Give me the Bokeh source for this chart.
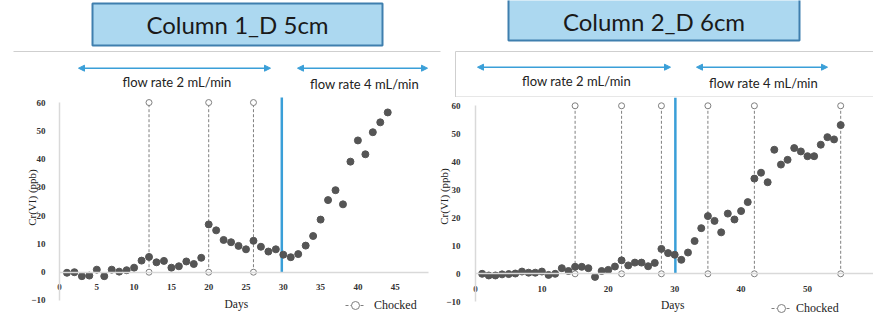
import math
from bokeh.plotting import figure
from bokeh.models import (ColumnDataSource, Range1d, FixedTicker, Legend, LegendItem,
                          Arrow, NormalHead, Label)
from bokeh.layouts import column, row
from bokeh.core.properties import value
from bokeh.embed import file_html
from bokeh.resources import INLINE

# ---------------- data ----------------
days_1 = list(range(1, 45))
cr_1 = [-0.2, 0.0, -1.4, -1.2, 0.9, -1.4, 0.9, 0.2, 0.7, 1.6,
        4.1, 5.4, 3.5, 4.0, 1.6, 2.1, 3.8, 2.9, 5.1, 16.9,
        14.8, 11.4, 10.6, 9.3, 8.1, 11.1, 9.0, 7.3, 8.1, 6.2,
        5.3, 6.4, 9.4, 12.8, 18.6, 25.5, 29.0, 24.0, 39.1, 46.6,
        41.7, 49.5, 53.0, 56.5]
choked_1 = [12, 20, 26]
flow_change_1 = [29.8]

days_2 = list(range(1, 56))
cr_2 = [0.0, -0.6, -0.6, -0.2, -0.1, 0.1, 0.8, 0.4, 0.4, 0.8,
        -0.4, 0.0, 2.0, 1.0, 2.5, 2.5, 2.0, -1.1, 1.0, 1.4,
        2.6, 4.8, 3.0, 4.0, 4.0, 2.7, 3.9, 8.9, 7.4, 6.8,
        5.0, 7.6, 11.7, 16.3, 20.6, 18.9, 14.8, 21.5, 19.4, 22.4,
        25.6, 34.0, 36.1, 32.7, 44.3, 39.0, 40.7, 44.9, 43.7, 42.0,
        42.0, 46.1, 48.8, 48.0, 53.1]
choked_2 = [15, 22, 28, 35, 42, 55]
flow_change_2 = [30.1]

choke_low = 0
choke_high = 60
y_ticks = [-10, 0, 10, 20, 30, 40, 50, 60]
x_ticks_1 = [0, 5, 10, 15, 20, 25, 30, 35, 40, 45]
x_ticks_2 = [0, 10, 20, 30, 40, 50]

titles = ["Column 1_D 5cm", "Column 2_D 6cm"]
flow_labels = ["flow rate 2 mL/min", "flow rate 4 mL/min"]
x_title = "Days"
y_title = "Cr(VI) (ppb)"

# ---------------- styles ----------------
SANS = "Lato"
SERIF = "Liberation Serif"
DOT = "#555555"
GRAYLINE = "#7f7f7f"
BLUE = "#3a9fd8"
AXIS = "#d9d9d9"
BOX_FILL = "#acd8f0"
BOX_LINE = "#3f7fae"
FRAME = "#cfcfcf"

# ---------------- header (pixel coordinates) ----------------
hdr = figure(width=873, height=97, x_range=Range1d(0, 873), y_range=Range1d(97, 0),
             output_backend="svg", toolbar_location=None, min_border=0,
             x_axis_location=None, y_axis_location=None)
hdr.grid.visible = False
hdr.outline_line_color = None

hdr.quad(left=[92, 508], right=[382, 799], top=[3, -2], bottom=[45, 40],
         fill_color=BOX_FILL, line_color=BOX_LINE, line_width=2)
hdr.text(x=[237, 653.5], y=[24, 21], text=titles, text_font=value(SANS),
         text_font_size=value("24px"), text_align="center", text_baseline="middle",
         text_color="#1a1a1a")
hdr.segment(x0=[13, 455, 455, 455], y0=[51, 51, 51, 96.5],
            x1=[440, 873, 455, 873], y1=[51, 51, 97, 96.5],
            line_color=FRAME, line_width=1)
for xs, xe, yy in [(78, 270, 67.7), (297, 427, 67.7), (477, 670, 66.7), (696, 827, 66.7)]:
    hdr.add_layout(Arrow(start=NormalHead(size=6, fill_color=BLUE, line_color=BLUE),
                         end=NormalHead(size=6, fill_color=BLUE, line_color=BLUE),
                         x_start=xs, y_start=yy, x_end=xe, y_end=yy,
                         line_color=BLUE, line_width=1.5))
hdr.text(x=[176.5, 364, 576, 763], y=[81, 83, 80, 82],
         text=flow_labels + flow_labels, text_font=value(SANS),
         text_font_size=value("13px"), text_align="center", text_baseline="middle",
         text_color="#222222")


def make_panel(width, x_start, x_end, x_bound, y_bot, y_top, days, cr, choked,
               flow_change, x_ticks, legend_loc, leg_standoff, ylab_standoff,
               xlab_pos, ylab_pos):
    p = figure(width=width, height=229, x_range=Range1d(x_start, x_end),
               y_range=Range1d(y_bot, y_top), output_backend="svg",
               toolbar_location=None, min_border=0)
    p.grid.visible = False
    p.outline_line_color = None

    # axes crossing at the origin
    xa = p.xaxis[0]
    xa.fixed_location = 0
    xa.bounds = (0, x_bound)
    xa.ticker = FixedTicker(ticks=x_ticks)
    ya = p.yaxis[0]
    ya.fixed_location = 0
    ya.bounds = (-10, 60)
    ya.ticker = FixedTicker(ticks=y_ticks)
    for ax in (xa, ya):
        ax.axis_line_color = AXIS
        ax.axis_line_width = 1.5
        ax.major_tick_line_color = None
        ax.minor_tick_line_color = None
        ax.major_label_text_font = SERIF
        ax.major_label_text_font_size = "9px"
        ax.major_label_text_font_style = "bold"
        ax.major_label_text_color = "#333333"
    xa.major_label_standoff = 6
    ya.major_label_standoff = ylab_standoff

    p.add_layout(Label(x=xlab_pos[0], y=xlab_pos[1], text=x_title,
                       text_font=SERIF, text_font_size="11.5px", text_color="#222222",
                       text_align="center", text_baseline="middle"))
    p.add_layout(Label(x=ylab_pos[0], y=ylab_pos[1], text=y_title, angle=math.pi / 2,
                       text_font=SERIF, text_font_size="11px", text_color="#222222",
                       text_align="center", text_baseline="middle"))

    # choked markers
    csrc = ColumnDataSource(dict(x=choked, y0=[choke_low] * len(choked),
                                 y1=[choke_high] * len(choked)))
    seg = p.segment(x0="x", y0="y0", x1="x", y1="y1", source=csrc,
                    line_color=GRAYLINE, line_width=1, line_dash="3 2")
    circ_src = ColumnDataSource(dict(x=choked + choked,
                                     y=[choke_low] * len(choked) + [choke_high] * len(choked)))
    sc = p.scatter(x="x", y="y", source=circ_src, marker="circle", size=6,
                   fill_color="white", line_color=GRAYLINE, line_width=1)

    # flow-rate change line
    p.segment(x0=flow_change, y0=[0], x1=flow_change, y1=[63],
              line_color=BLUE, line_width=2.5)

    # measured data
    src = ColumnDataSource(dict(x=days, y=cr))
    p.scatter(x="x", y="y", source=src, marker="circle", size=7,
              fill_color=DOT, line_color=DOT)

    legend = Legend(items=[LegendItem(label="Chocked", renderers=[seg, sc])],
                    location=legend_loc, orientation="horizontal",
                    background_fill_alpha=0, border_line_alpha=0,
                    padding=0, margin=0, glyph_width=20, label_standoff=leg_standoff,
                    label_text_font=SERIF, label_text_font_size="12px",
                    label_text_color="#222222")
    p.add_layout(legend)
    return p


# left panel: day 0 at x=59 px, 7.46 px/day; value 0 at y=271.7 px, 2.828 px/unit
p1 = make_panel(436, -59 / 7.46, 377 / 7.46, 49.5, -19.2, 61.78, days_1, cr_1, choked_1,
                flow_change_1, x_ticks_1, (345, 11), 9, 8, (23.7, -11.4), (-3.75, 26.4))
# right panel: day 0 at x=475 px, 6.64 px/day; value 0 at y=273.3 px, 2.8 px/unit
p2 = make_panel(437, -39 / 6.64, 398 / 6.64, 59.9, -18.82, 62.96, days_2, cr_2, choked_2,
                flow_change_2, x_ticks_2, (335, 8), 5, 9, (29.7, -11.0), (-4.8, 27.6))

layout = column(hdr, row(p1, p2, spacing=0), spacing=0)
open("out.html", "w").write(file_html(layout, INLINE))
